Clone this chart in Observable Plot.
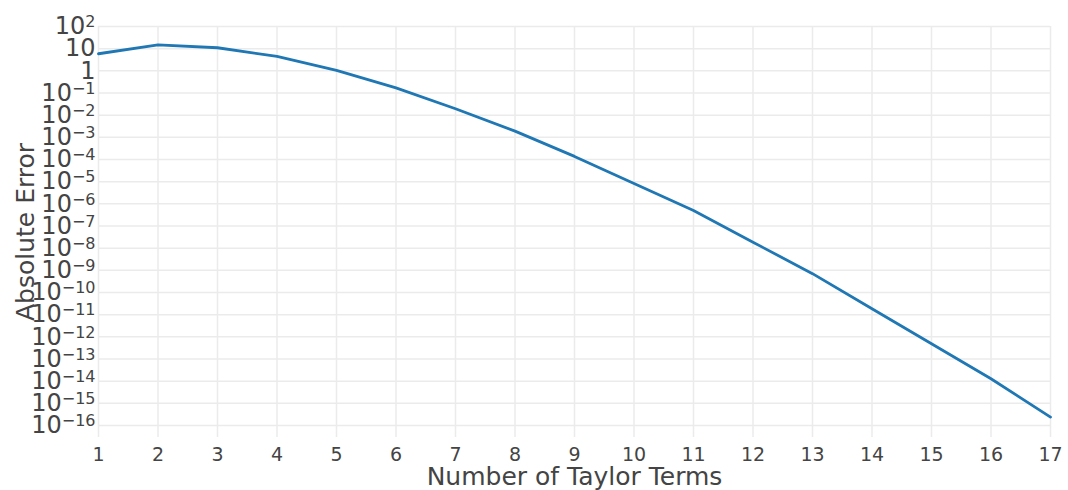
<!DOCTYPE html>
<html>
<head>
<meta charset="utf-8">
<script src="https://cdn.jsdelivr.net/npm/d3@7"></script>
<script src="https://cdn.jsdelivr.net/npm/@observablehq/plot@0.6"></script>
<style>
  html, body { margin: 0; padding: 0; background: #fff; }
  #chart svg { display: block; }
</style>
</head>
<body>
<div id="chart"></div>
<script>
// Data
const terms = [1, 2, 3, 4, 5, 6, 7, 8, 9, 10, 11, 12, 13, 14, 15, 16, 17];
const absError = [5.9, 14.8, 11.0, 4.47, 1.05, 0.17, 0.0195, 1.9e-3, 1.38e-4, 8.3e-6,
                  5.0e-7, 1.86e-8, 7.1e-10, 1.86e-11, 4.9e-13, 1.29e-14, 2.4e-16];
const yTickValues = [1e2, 1e1, 1e0, 1e-1, 1e-2, 1e-3, 1e-4, 1e-5, 1e-6, 1e-7, 1e-8,
                     1e-9, 1e-10, 1e-11, 1e-12, 1e-13, 1e-14, 1e-15, 1e-16];
const yTickBase = ["10", "10", "1", "10", "10", "10", "10", "10", "10", "10", "10",
                   "10", "10", "10", "10", "10", "10", "10", "10"];
const yTickExp = ["2", "", "", "−1", "−2", "−3", "−4", "−5", "−6", "−7", "−8",
                  "−9", "−10", "−11", "−12", "−13", "−14", "−15", "−16"];
const xTickValues = terms;
const xTitle = "Number of Taylor Terms";
const yTitle = "Absolute Error";

const data = terms.map((t, i) => ({term: t, err: absError[i]}));
const font = "'DejaVu Sans', Verdana, sans-serif";
const textColor = "#444";

const chart = Plot.plot({
  width: 1068,
  height: 490,
  marginLeft: 98,
  marginRight: 18,
  marginTop: 26,
  marginBottom: 53,
  style: {fontFamily: font, color: textColor, background: "#fff"},
  x: {domain: [1, 17]},
  y: {type: "log", domain: [Math.pow(10, -16.54), 100]},
  marks: [
    Plot.gridX(xTickValues, {stroke: "#ebebeb", strokeOpacity: 1, strokeWidth: 1.5}),
    Plot.gridY(yTickValues, {stroke: "#ebebeb", strokeOpacity: 1, strokeWidth: 1.5, x1: 1, x2: 17}),
    Plot.axisX({ticks: xTickValues, tickSize: 0, tickPadding: 10, fontSize: 19,
                tickFormat: d => String(d), label: null}),
    Plot.axisY({ticks: yTickValues, tickSize: 0, tickPadding: 3, fontSize: 24,
                tickFormat: d => String(yTickValues.indexOf(d)), label: null}),
    Plot.line(data, {x: "term", y: "err", stroke: "#1f77b4", strokeWidth: 2.8, curve: "linear"}),
    Plot.text([xTitle], {frameAnchor: "bottom", dy: 47, text: d => d, fontSize: 25,
                         fill: textColor, lineAnchor: "bottom", textAnchor: "middle"}),
    Plot.text([yTitle], {frameAnchor: "left", dx: -65, text: d => d, fontSize: 25, rotate: -90,
                         fill: textColor, lineAnchor: "bottom", textAnchor: "middle"})
  ]
});

// Rebuild y tick labels as base + superscript exponent (real text)
const ns = "http://www.w3.org/2000/svg";
d3.select(chart).selectAll("g[aria-label='y-axis tick label'] text").each(function() {
  const idx = +this.textContent;
  const base = yTickBase[idx];
  const exp = yTickExp[idx];
  this.textContent = "";
  const t1 = document.createElementNS(ns, "tspan");
  t1.textContent = base;
  this.appendChild(t1);
  if (exp) {
    const t2 = document.createElementNS(ns, "tspan");
    t2.setAttribute("dy", "-7");
    t2.setAttribute("font-size", "16");
    t2.textContent = exp;
    this.appendChild(t2);
  }
});

document.getElementById("chart").appendChild(chart);
</script>
</body>
</html>
